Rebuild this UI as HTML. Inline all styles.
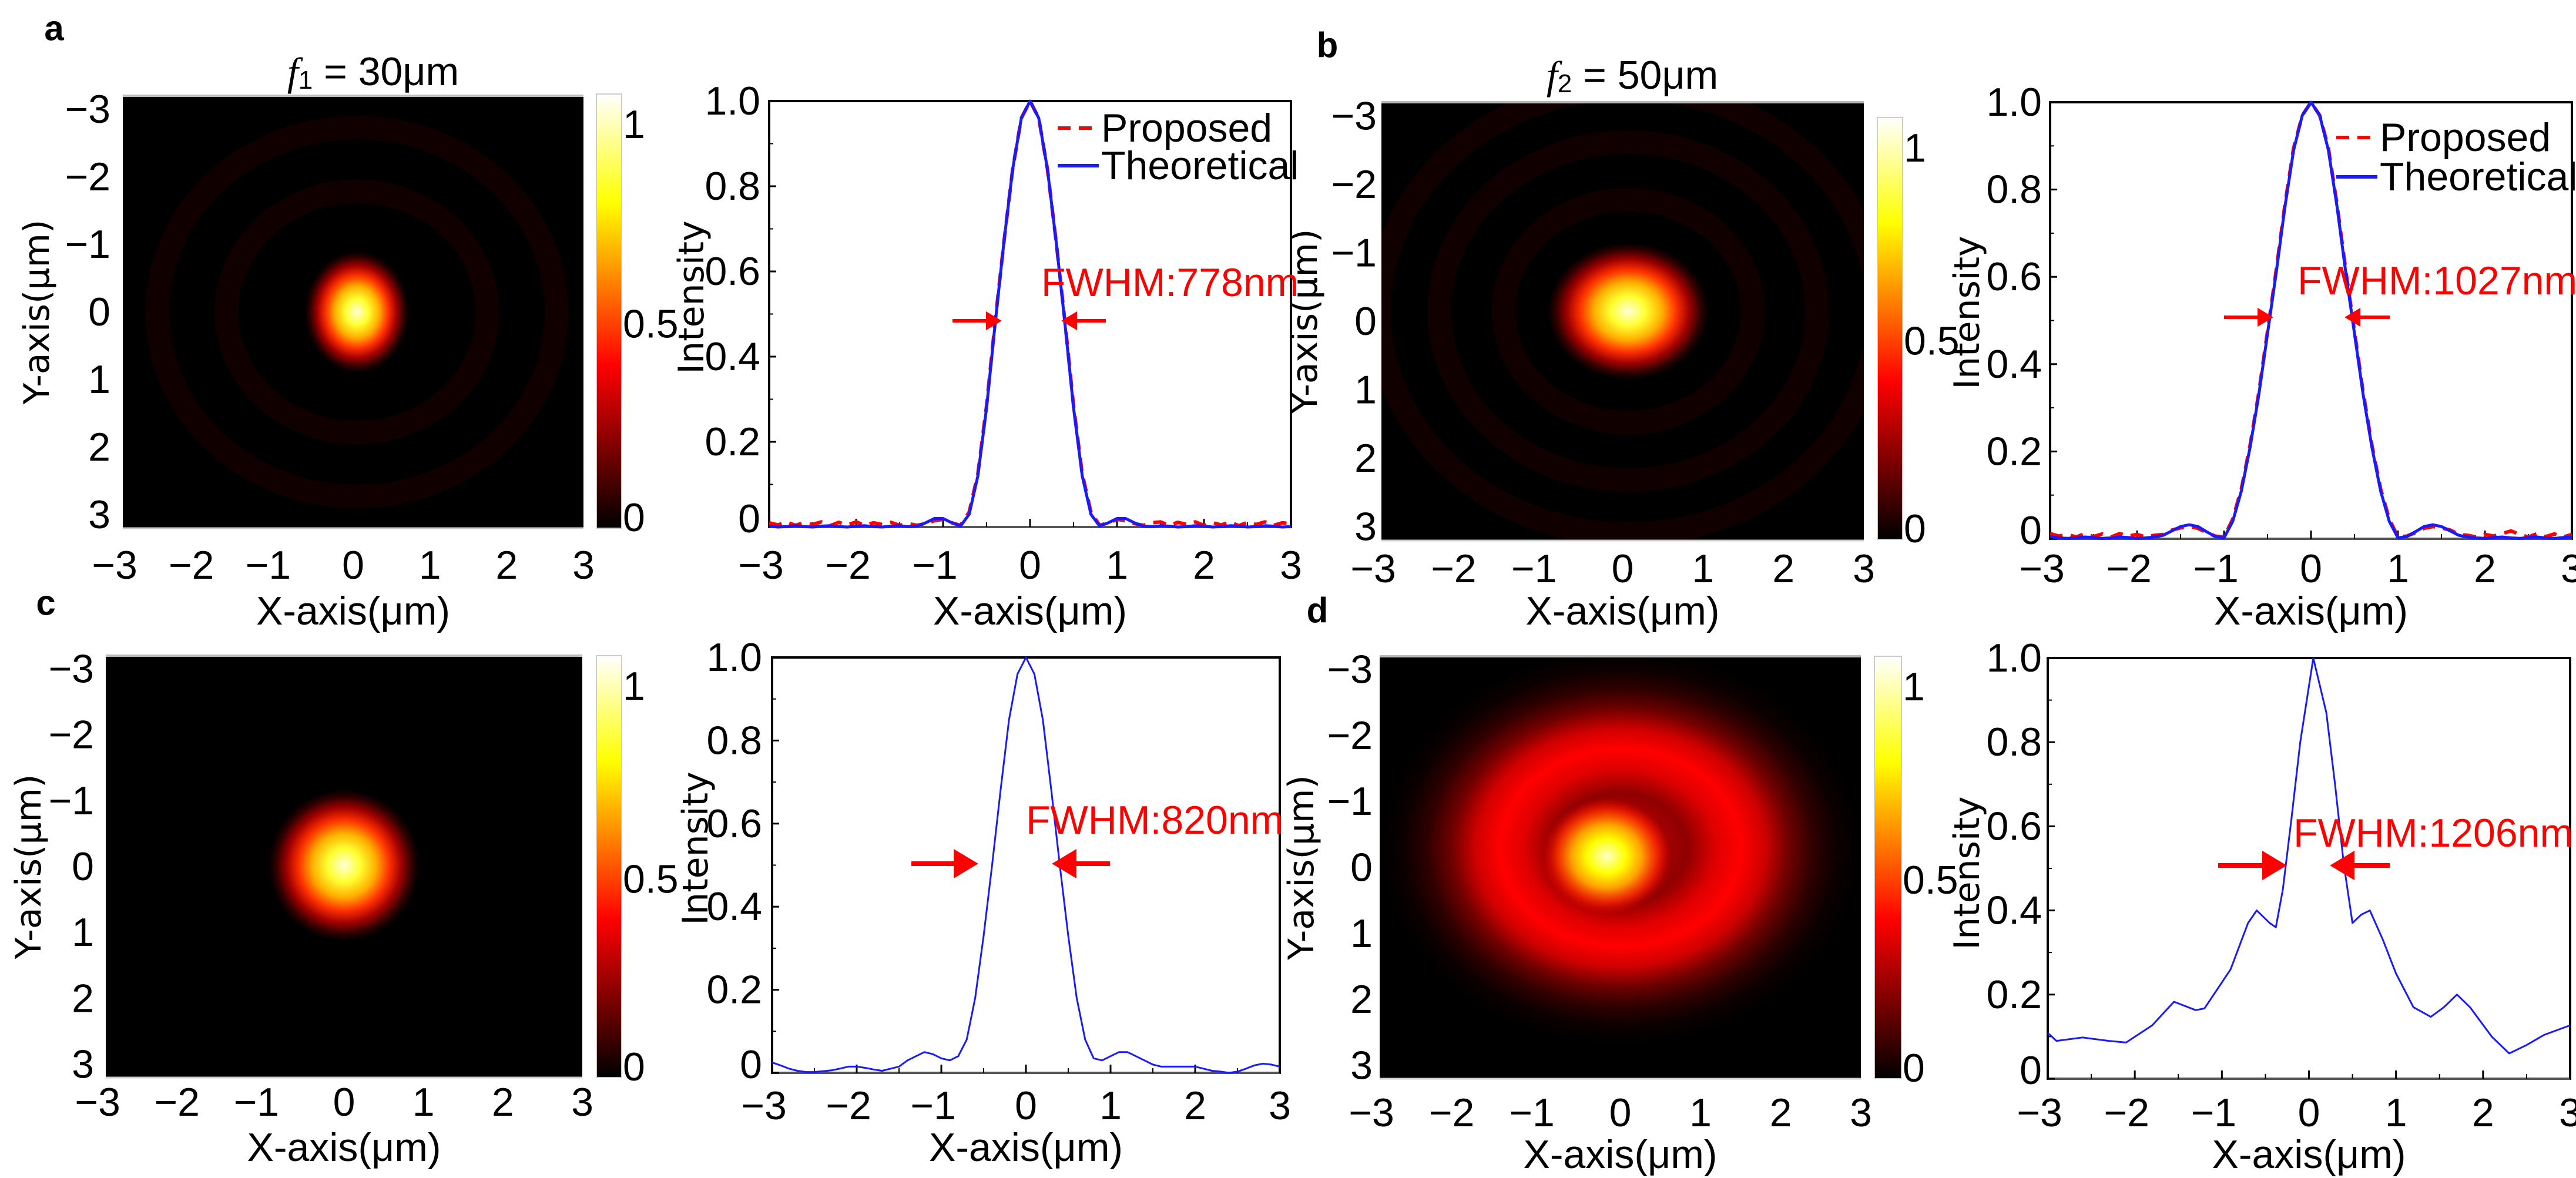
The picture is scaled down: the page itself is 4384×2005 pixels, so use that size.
<!DOCTYPE html>
<html><head><meta charset="utf-8">
<style>
html,body{margin:0;padding:0;background:#fff;}
svg{display:block;}
</style></head>
<body>
<svg id="fig" xmlns="http://www.w3.org/2000/svg" width="4384" height="2005" viewBox="0 0 4384 2005">
<defs>
<linearGradient id="hotbar" x1="0" y1="1" x2="0" y2="0">
<stop offset="0" stop-color="#000"/><stop offset="0.375" stop-color="#ff0000"/><stop offset="0.75" stop-color="#ffff00"/><stop offset="1" stop-color="#ffffff"/>
</linearGradient>
<radialGradient id="spot">
<stop offset="0" stop-color="#ffffd8"/><stop offset="0.22" stop-color="#ffff30"/><stop offset="0.42" stop-color="#ffb000"/><stop offset="0.6" stop-color="#ff3000"/><stop offset="0.76" stop-color="#a00000"/><stop offset="0.9" stop-color="#300000"/><stop offset="1" stop-color="#000"/>
</radialGradient>
<radialGradient id="spotd">
<stop offset="0" stop-color="#ffffc8"/><stop offset="0.3" stop-color="#ffff00"/><stop offset="0.55" stop-color="#ffa000"/><stop offset="0.78" stop-color="#ff3000" stop-opacity="0.8"/><stop offset="1" stop-color="#ff0000" stop-opacity="0"/>
</radialGradient>
<radialGradient id="halod">
<stop offset="0" stop-color="#ff2000"/><stop offset="0.2" stop-color="#a00000"/><stop offset="0.28" stop-color="#900000"/><stop offset="0.4" stop-color="#e00000"/><stop offset="0.5" stop-color="#ff0000"/><stop offset="0.6" stop-color="#d00000"/><stop offset="0.7" stop-color="#700000"/><stop offset="0.8" stop-color="#300000"/><stop offset="0.9" stop-color="#0c0000"/><stop offset="1" stop-color="#000"/>
</radialGradient>
</defs>
</svg>
<script>
// ---- data ----
const GRID_X = [-3.0,-2.9,-2.8,-2.7,-2.6,-2.5,-2.4,-2.3,-2.2,-2.1,-2.0,-1.9,-1.8,-1.7,-1.6,-1.5,-1.4,-1.3,-1.2,-1.1,-1.0,-0.9,-0.8,-0.7,-0.6,-0.5,-0.4,-0.3,-0.2,-0.1,0.0,0.1,0.2,0.3,0.4,0.5,0.6,0.7,0.8,0.9,1.0,1.1,1.2,1.3,1.4,1.5,1.6,1.7,1.8,1.9,2.0,2.1,2.2,2.3,2.4,2.5,2.6,2.7,2.8,2.9,3.0];
const aTheo = [0.002,0,0.001,0.003,0.001,0,0.002,0.003,0.001,0,0.002,0.003,0.001,0,0.002,0.003,0.001,0.002,0.01,0.02,0.02,0.01,0.002,0.03,0.12,0.28,0.48,0.67,0.84,0.96,1.0,0.96,0.84,0.67,0.48,0.28,0.12,0.03,0.002,0.01,0.02,0.02,0.01,0.002,0.001,0.003,0.002,0,0.001,0.003,0.002,0,0.001,0.003,0.002,0,0.001,0.003,0.002,0,0.001];
const aProp = [0.01,0.005,0.012,0.004,0.01,0.006,0.012,0.003,0.011,0.005,0.012,0.004,0.01,0.006,0.011,0.004,0.008,0.004,0.008,0.015,0.018,0.01,0.004,0.035,0.125,0.285,0.485,0.67,0.84,0.96,1.0,0.96,0.84,0.67,0.485,0.285,0.125,0.035,0.004,0.01,0.018,0.015,0.008,0.004,0.01,0.012,0.004,0.011,0.006,0.012,0.004,0.01,0.005,0.012,0.003,0.011,0.006,0.012,0.004,0.01,0.008];
const bTheo = [0.005,0.002,0.001,0.002,0.004,0.003,0.001,0.002,0.004,0.003,0.001,0.002,0.004,0.008,0.018,0.028,0.032,0.028,0.016,0.005,0.002,0.04,0.11,0.21,0.33,0.47,0.61,0.76,0.89,0.97,1.0,0.97,0.89,0.76,0.61,0.47,0.33,0.21,0.11,0.04,0.002,0.005,0.016,0.028,0.032,0.028,0.018,0.008,0.004,0.002,0.001,0.003,0.004,0.002,0.001,0.003,0.004,0.002,0.001,0.003,0.004];
const bProp = [0.012,0.006,0.01,0.004,0.012,0.005,0.011,0.004,0.012,0.006,0.01,0.004,0.008,0.01,0.02,0.025,0.028,0.024,0.014,0.006,0.004,0.045,0.115,0.215,0.335,0.475,0.615,0.765,0.895,0.97,1.0,0.97,0.895,0.765,0.615,0.475,0.335,0.215,0.115,0.045,0.004,0.006,0.014,0.024,0.028,0.025,0.02,0.01,0.008,0.004,0.01,0.006,0.012,0.018,0.01,0.004,0.012,0.005,0.011,0.004,0.01];
const cVals = [0.025,0.018,0.01,0.005,0.002,0.002,0.004,0.006,0.01,0.015,0.015,0.012,0.008,0.005,0.01,0.015,0.03,0.04,0.05,0.045,0.035,0.03,0.04,0.08,0.18,0.33,0.50,0.68,0.85,0.96,1.0,0.96,0.85,0.68,0.50,0.33,0.18,0.08,0.035,0.03,0.04,0.05,0.05,0.04,0.03,0.02,0.015,0.015,0.015,0.015,0.015,0.01,0.005,0.003,0.0,0.003,0.01,0.018,0.022,0.02,0.015];
const dX = [-3.0,-2.9,-2.6,-2.3,-2.1,-1.8,-1.55,-1.3,-1.2,-0.9,-0.7,-0.6,-0.45,-0.38,-0.3,-0.2,-0.1,0.05,0.2,0.3,0.4,0.5,0.6,0.7,0.85,1.0,1.2,1.4,1.55,1.7,1.85,2.1,2.3,2.5,2.7,3.0];
const dVals = [0.109,0.09,0.098,0.09,0.086,0.127,0.183,0.163,0.167,0.26,0.37,0.40,0.37,0.36,0.45,0.62,0.80,1.0,0.87,0.70,0.51,0.37,0.39,0.40,0.33,0.25,0.17,0.147,0.17,0.20,0.17,0.10,0.06,0.08,0.104,0.127];
const xTicks = [-3,-2,-1,0,1,2,3];
const xTickLabels = ['\u22123','\u22122','\u22121','0','1','2','3'];
const yTicksLine = [0,0.2,0.4,0.6,0.8,1.0];
const yTickLabelsLine = ['0','0.2','0.4','0.6','0.8','1.0'];
const cbarTicks = ['0','0.5','1'];

const NS = 'http://www.w3.org/2000/svg';
const svg = document.getElementById('fig');
const SANS = '"Liberation Sans", Arial, sans-serif';
const DJ = '"DejaVu Sans", "Liberation Sans", sans-serif';
const FS = 68;

function el(tag, attrs, parent){
  const e = document.createElementNS(NS, tag);
  for (const k in attrs) e.setAttribute(k, attrs[k]);
  (parent || svg).appendChild(e);
  return e;
}
function txt(x, y, s, size, anchor, name, opt){
  opt = opt || {};
  const t = el('text', {x:x, y:y, 'font-size':size, 'text-anchor':anchor||'start', 'dominant-baseline':'central', fill:opt.fill||'#000', 'font-family':opt.family||SANS});
  if (opt.weight) t.setAttribute('font-weight', opt.weight);
  if (opt.rot) t.setAttribute('transform', 'rotate(-90 '+x+' '+y+')');
  t.textContent = s;
  
  
  return t;
}

// ---- heatmap panels ----
function heatmap(P){
  const g = el('g', {});
  
  
  const sx = v => P.x0 + (v + 3) / 6 * (P.x1 - P.x0);
  const sy = v => P.y0 + (v + 3.2) / 6.4 * (P.y1 - P.y0);
  const ux = (P.x1 - P.x0) / 6, uy = (P.y1 - P.y0) / 6.4;
  const bg = el('rect', {x:P.x0, y:P.y0, width:P.x1-P.x0, height:P.y1-P.y0, fill:'#000'}, g);
  
  
  const clip = el('clipPath', {id:'clip'+P.id}, g);
  el('rect', {x:P.x0, y:P.y0, width:P.x1-P.x0, height:P.y1-P.y0}, clip);
  const inner = el('g', {'clip-path':'url(#clip'+P.id+')'}, g);
  if (P.halo){
    const h = el('ellipse', {cx:sx(P.halo[0]), cy:sy(P.halo[1]), rx:P.halo[2]*ux, ry:P.halo[2]*uy, fill:'url(#halod)'}, inner);
    
    
  }
  (P.rings||[]).forEach(r => {
    const rg = el('ellipse', {cx:sx(P.spot[0]), cy:sy(P.spot[1]), rx:r*ux, ry:r*uy*1.05, fill:'none', stroke:'#1a0000', 'stroke-width':40, opacity:0.6}, inner);
    
    
  });
  const s = el('ellipse', {cx:sx(P.spot[0]), cy:sy(P.spot[1]), rx:P.spot[2]*ux, ry:P.spot[3]*uy, fill:P.halo?'url(#spotd)':'url(#spot)'}, inner);
  
  
  el('line', {x1:P.x0, y1:P.y0, x2:P.x1, y2:P.y0, stroke:'#bbb', 'stroke-width':4}, g);
  el('line', {x1:P.x0, y1:P.y1, x2:P.x1, y2:P.y1, stroke:'#ccc', 'stroke-width':3}, g);
  xTicks.forEach((v,i) => {
    txt(sx(v) - (v<0?14:0), P.tickY, xTickLabels[i], FS, 'middle', P.id + '-x-tick-label');
  });
  xTicks.forEach((v,i) => {
    txt(P.yLabX, sy(v), xTickLabels[i], FS, 'end', P.id + '-y-tick-label');
  });
  txt((P.x0+P.x1)/2, P.labY, 'X-axis(\u03bcm)', FS, 'middle', P.id + '-x-axis-title');
  txt(P.yTitleX, (P.y0+P.y1)/2, 'Y-axis(\u03bcm)', 60, 'middle', P.id + '-y-axis-title', {family:DJ, rot:true});
  const C = P.cb;
  const cb = el('rect', {x:C[0], y:C[2], width:C[1]-C[0], height:C[3]-C[2], fill:'url(#hotbar)', stroke:'#ccc', 'stroke-width':2});
  
  
  const ch = C[3]-C[2];
  txt(C[1]+2, C[3]-18, cbarTicks[0], FS, 'start', P.id + '-colorbar-label-0');
  txt(C[1]+2, C[2]+0.53*ch, cbarTicks[1], FS, 'start', P.id + '-colorbar-label-05');
  txt(C[1]+2, C[2]+52, cbarTicks[2], FS, 'start', P.id + '-colorbar-label-1');
}

// ---- line panels ----
function linePanel(P){
  const sx = v => P.x0 + (v + 3) / 6 * (P.x1 - P.x0);
  const sy = v => P.y1 - v * (P.y1 - P.y0);
  const g = el('g', {});
  
  
  const frame = el('rect', {x:P.x0, y:P.y0, width:P.x1-P.x0, height:P.y1-P.y0, fill:'#fff', stroke:'#000', 'stroke-width':4}, g);
  
  
  el('line', {x1:P.x0, y1:P.y1, x2:P.x1, y2:P.y1, stroke:'#555', 'stroke-width':4}, g);
  xTicks.forEach((v,i) => {
    el('line', {x1:sx(v), y1:P.y1, x2:sx(v), y2:P.y1-14, stroke:'#000', 'stroke-width':3}, g);
    if (i < 6) el('line', {x1:sx(v+0.5), y1:P.y1, x2:sx(v+0.5), y2:P.y1-8, stroke:'#000', 'stroke-width':2}, g);
    txt(sx(v) - (v<0?14:0), P.tickY, xTickLabels[i], FS, 'middle', P.id + '-x-tick-label');
  });
  yTicksLine.forEach((v,i) => {
    el('line', {x1:P.x0, y1:sy(v), x2:P.x0+12, y2:sy(v), stroke:'#000', 'stroke-width':3}, g);
    if (i < 5) el('line', {x1:P.x0, y1:sy(v+0.1), x2:P.x0+7, y2:sy(v+0.1), stroke:'#000', 'stroke-width':2}, g);
    txt(P.yLabX, sy(v) - (v===0?14:0), yTickLabelsLine[i], FS, 'end', P.id + '-y-tick-label');
  });
  txt((P.x0+P.x1)/2, P.labY, 'X-axis(\u03bcm)', FS, 'middle', P.id + '-x-axis-title');
  txt(P.intX, P.intY, 'Intensity', 60, 'middle', P.id + '-y-axis-title', {family:DJ, rot:true});
  P.series.forEach(S => {
    const pts = S.x.map((xv,i) => sx(xv).toFixed(1) + ',' + sy(S.y[i]).toFixed(1)).join(' ');
    const pl = el('polyline', {points:pts, fill:'none', stroke:S.color, 'stroke-width':S.w, 'stroke-linejoin':'round'}, g);
    if (S.dash) pl.setAttribute('stroke-dasharray', S.dash);
    
    
  });
  if (P.legend){
    const L = P.legend;
    const d1 = el('line', {x1:L.x, y1:L.y1, x2:L.x+70, y2:L.y1, stroke:'#ff0000', 'stroke-width':6, 'stroke-dasharray':'22 14'}, g);
    
    
    txt(L.x+74, L.y1, 'Proposed', FS, 'start', P.id + '-legend-proposed');
    const d2 = el('line', {x1:L.x, y1:L.y2, x2:L.x+70, y2:L.y2, stroke:'#1a1aff', 'stroke-width':6}, g);
    
    
    txt(L.x+74, L.y2, 'Theoretical', FS, 'start', P.id + '-legend-theoretical');
  }
  const F = P.fwhm;
  txt(F.tx, F.ty, F.label, FS, 'start', P.id + '-fwhm-label', {fill:'#ff0000'});
  const a1 = el('path', {d:'M'+F.l0+' '+F.ay+' L'+(F.l1-F.h)+' '+F.ay+' M'+(F.l1-F.h)+' '+(F.ay-F.h*0.6)+' L'+F.l1+' '+F.ay+' L'+(F.l1-F.h)+' '+(F.ay+F.h*0.6)+' Z', fill:'#ff0000', stroke:'#ff0000', 'stroke-width':F.sw}, g);
  
  
  const a2 = el('path', {d:'M'+F.r0+' '+F.ay+' L'+(F.r1+F.h)+' '+F.ay+' M'+(F.r1+F.h)+' '+(F.ay-F.h*0.6)+' L'+F.r1+' '+F.ay+' L'+(F.r1+F.h)+' '+(F.ay+F.h*0.6)+' Z', fill:'#ff0000', stroke:'#ff0000', 'stroke-width':F.sw}, g);
  
  
}

txt(92, 48, 'a', 60, 'middle', 'panel-label-a', {weight:'bold'});
txt(2259, 77, 'b', 60, 'middle', 'panel-label-b', {weight:'bold'});
txt(78, 1026, 'c', 60, 'middle', 'panel-label-c', {weight:'bold'});
txt(2242, 1039, 'd', 60, 'middle', 'panel-label-d', {weight:'bold'});

function title(cx, cy, sub, rest, name){
  const t = el('text', {x:cx, y:cy, 'font-size':FS, 'text-anchor':'middle', 'dominant-baseline':'central', 'font-family':SANS});
  
  
  const f = el('tspan', {'font-family':'"Liberation Serif", serif', 'font-style':'italic'}, t); f.textContent = 'f';
  const s = el('tspan', {'font-size':44, dy:14}, t); s.textContent = sub;
  const r = el('tspan', {dy:-14}, t); r.textContent = rest;
}
title(635, 122, '1', ' = 30\u03bcm', 'title-f1');
title(2778, 128, '2', ' = 50\u03bcm', 'title-f2');

heatmap({id:'a', x0:209, x1:993, y0:163, y1:899, cb:[1015,1058,160,899], spot:[0.05,0,0.68,0.9], rings:[1.7,2.6], tickY:962, labY:1040, yLabX:188, yTitleX:63});
heatmap({id:'b', x0:2351, x1:3172, y0:174, y1:920, cb:[3195,3238,200,918], spot:[0.07,-0.15,1.0,1.0], rings:[1.55,2.35,3.1], tickY:968, labY:1040, yLabX:2343, yTitleX:2221});
heatmap({id:'c', x0:180, x1:991, y0:1116, y1:1834, cb:[1015,1058,1116,1834], spot:[0,-0.02,0.95,1.15], rings:[], tickY:1876, labY:1953, yLabX:160, yTitleX:49});
heatmap({id:'d', x0:2348, x1:3167, y0:1117, y1:1836, cb:[3190,3236,1117,1836], spot:[-0.17,-0.17,0.8,0.88], halo:[0,-0.3,3.0], tickY:1894, labY:1965, yLabX:2336, yTitleX:2215});

linePanel({id:'a', x0:1309, x1:2197, y0:172, y1:897, tickY:962, labY:1040, yLabX:1294, intX:1177, intY:506,
  series:[{name:'proposed', x:GRID_X, y:aProp, color:'#ff0000', w:6, dash:'22 14'},{name:'theoretical', x:GRID_X, y:aTheo, color:'#1a1aff', w:5}],
  legend:{x:1800, y1:218, y2:282},
  fwhm:{label:'FWHM:778nm', tx:1772, ty:481, ay:546, l0:1621, l1:1699, r0:1882, r1:1812, h:18, sw:6}});
linePanel({id:'b', x0:3489, x1:4377, y0:174, y1:917, tickY:968, labY:1040, yLabX:3475, intX:3348, intY:532,
  series:[{name:'proposed', x:GRID_X, y:bProp, color:'#ff0000', w:6, dash:'22 14'},{name:'theoretical', x:GRID_X, y:bTheo, color:'#1a1aff', w:5}],
  legend:{x:3976, y1:234, y2:301},
  fwhm:{label:'FWHM:1027nm', tx:3910, ty:478, ay:540, l0:3785, l1:3863, r0:4067, r1:3996, h:18, sw:6}});
linePanel({id:'c', x0:1314, x1:2178, y0:1119, y1:1826, tickY:1882, labY:1953, yLabX:1297, intX:1184, intY:1444,
  series:[{name:'intensity', x:GRID_X, y:cVals, color:'#1a1aff', w:3}],
  fwhm:{label:'FWHM:820nm', tx:1746, ty:1396, ay:1470, l0:1551, l1:1657, r0:1889, r1:1798, h:30, sw:8}});
linePanel({id:'d', x0:3485, x1:4374, y0:1120, y1:1836, tickY:1894, labY:1965, yLabX:3475, intX:3348, intY:1486,
  series:[{name:'intensity', x:dX, y:dVals, color:'#1a1aff', w:3}],
  fwhm:{label:'FWHM:1206nm', tx:3903, ty:1418, ay:1473, l0:3775, l1:3884, r0:4067, r1:3973, h:30, sw:8}});
</script>
</body></html>
